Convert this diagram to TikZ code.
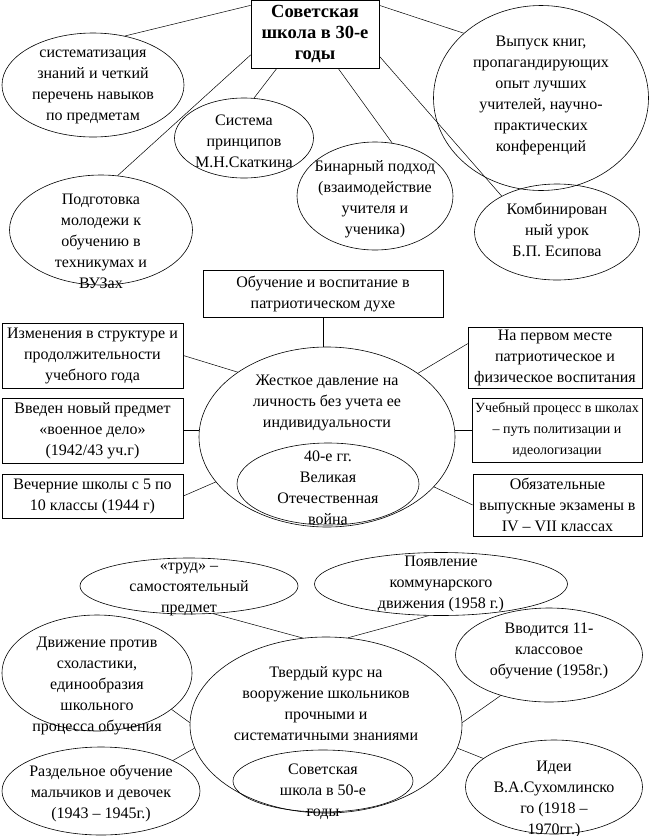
\documentclass[tikz,border=0pt]{standalone}
\usepackage{fontspec}
\setmainfont{Liberation Serif}
\usetikzlibrary{shapes.geometric}

\begin{document}
\begin{tikzpicture}[x=1pt,y=-1pt]
  % Definir estilos
  \tikzset{
    ovalo/.style={draw, ellipse, inner sep=0pt, line width=0.6pt},
    caja/.style={draw, rectangle, inner sep=1pt, line width=0.7pt, align=center,
      font=\fontsize{16}{21}\selectfont},
    texto/.style={align=center, inner sep=0pt, font=\fontsize{16}{21}\selectfont},
    enlace/.style={line width=0.5pt}
  }
  \useasboundingbox (0,0) rectangle (655,836);

  % Escuela de los años 30
  \node[caja, minimum width=128, minimum height=68, font=\fontsize{18.5}{21}\selectfont\bfseries]
    (esc30) at (315,34) {Советская\\школа в 30-е\\годы};

  \node[ovalo, minimum width=182, minimum height=104] (sist) at (93,85) {};
  \node[texto] (sist_t) at (93,87) {систематизация\\знаний и четкий\\перечень навыков\\по предметам};

  \node[ovalo, minimum width=215, minimum height=185] (vyp) at (541,98) {};
  \node[texto] (vyp_t) at (541,95) {Выпуск книг,\\пропагандирующих\\опыт лучших\\учителей, научно-\\практических\\конференций};

  \node[ovalo, minimum width=139, minimum height=80] (princ) at (244,138) {};
  \node[texto] (princ_t) at (244,141) {Система\\принципов\\М.Н.Скаткина};

  \node[ovalo, minimum width=156, minimum height=108] (binar) at (375,196) {};
  \node[texto] (binar_t) at (375,199) {Бинарный подход\\(взаимодействие\\учителя и\\ученика)};

  \node[ovalo, minimum width=183, minimum height=110] (podg) at (101,230) {};
  \node[texto] (podg_t) at (101,241) {Подготовка\\молодежи к\\обучению в\\техникумах и\\ВУЗах};

  \node[ovalo, minimum width=165, minimum height=96] (komb) at (557,232) {};
  \node[texto] (komb_t) at (557,230) {Комбинирован\\ный урок\\Б.П. Есипова};

  \draw[enlace] (esc30.156) -- (sist.57);
  \draw[enlace] (esc30.198) -- (podg.73);
  \draw[enlace] (esc30.222) -- (princ.76);
  \draw[enlace] (esc30.304) -- (binar.72);
  \draw[enlace] (esc30.341) -- (komb.147);
  \draw[enlace] (esc30.24) -- (vyp.140);

  % Años 40
  \node[caja, minimum width=240, minimum height=47] (patr) at (323,293.5)
    {Обучение и воспитание в\\патриотическом духе};
  \node[caja, minimum width=181, minimum height=65] (izm) at (92.5,355.5)
    {Изменения в структуре и\\продолжительности\\учебного года};
  \node[caja, minimum width=181, minimum height=65] (voen) at (92.5,430.5)
    {Введен новый предмет\\«военное дело»\\(1942/43 уч.г)};
  \node[caja, minimum width=181, minimum height=44] (vech) at (92.5,496)
    {Вечерние школы с 5 по\\10 классы (1944 г)};
  \node[caja, minimum width=174, minimum height=61] (pervom) at (555,357.5)
    {На первом месте\\патриотическое и\\физическое воспитания};
  \node[caja, minimum width=170, minimum height=64, font=\fontsize{14}{21}\selectfont]
    (polit) at (557,430) {Учебный процесс в школах\\– путь политизации и\\идеологизации};
  \node[caja, minimum width=169, minimum height=62] (ekz) at (557.5,505)
    {Обязательные\\выпускные экзамены в\\IV – VII классах};

  \node[ovalo, minimum width=256, minimum height=180] (davl) at (327,437) {};
  \node[texto] (davl_t) at (327,403) {Жесткое давление на\\личность без учета ее\\индивидуальности};
  \node[ovalo, minimum width=182, minimum height=82] (voina) at (328,484) {};
  \node[texto] (voina_t) at (328,488) {40-е гг.\\Великая\\Отечественная\\война};

  \draw[enlace] (patr.south) -- (patr.south |- davl.north);
  \draw[enlace] (izm.east) -- (davl.144);
  \draw[enlace] (voen.east) -- (voen.east -| davl.west);
  \draw[enlace] (vech.east) -- (davl.202);
  \draw[enlace] (pervom.171) -- (davl.35);
  \draw[enlace] (polit.west) -- (polit.west -| davl.east);
  \draw[enlace] (ekz.west) -- (davl.335);

  % Escuela de los años 50
  \node[ovalo, minimum width=218, minimum height=56] (trud) at (189,586) {};
  \node[texto] (trud_t) at (189,589) {«труд» –\\самостоятельный\\предмет};

  \node[ovalo, minimum width=253, minimum height=63] (komm) at (441,584) {};
  \node[texto] (komm_t) at (441,584) {Появление\\коммунарского\\движения (1958 г.)};

  \node[ovalo, minimum width=190, minimum height=116] (shol) at (97,673) {};
  \node[texto] (shol_t) at (97,686) {Движение против\\схоластики,\\единообразия\\школьного\\процесса обучения};

  \node[ovalo, minimum width=187, minimum height=94] (klass) at (549,655) {};
  \node[texto] (klass_t) at (549,651) {Вводится 11-\\классовое\\обучение (1958г.)};

  \node[ovalo, minimum width=198, minimum height=88] (razd) at (101,791) {};
  \node[texto] (razd_t) at (101,793) {Раздельное обучение\\мальчиков и девочек\\(1943 – 1945г.)};

  \node[ovalo, minimum width=177, minimum height=94] (idei) at (554,787) {};
  \node[texto] (idei_t) at (554,799) {Идеи\\В.А.Сухомлинско\\го (1918 –\\1970гг.)};

  \node[ovalo, minimum width=272, minimum height=176] (kurs) at (326,725) {};
  \node[texto] (kurs_t) at (326,704) {Твердый курс на\\вооружение школьников\\прочными и\\систематичными знаниями};
  \node[ovalo, minimum width=180, minimum height=62] (esc50) at (323,781) {};
  \node[texto] (esc50_t) at (323,792) {Советская\\школа в 50-е\\годы};

  \draw[enlace] (trud.311) -- (kurs.105);
  \draw[enlace] (komm.249) -- (kurs.76);
  \draw[enlace] (shol.334) -- (kurs.179);
  \draw[enlace] (razd.23) -- (kurs.190);
  \draw[enlace] (klass.220) -- (kurs.1);
  \draw[enlace] (idei.158) -- (kurs.350);
\end{tikzpicture}
\end{document}
